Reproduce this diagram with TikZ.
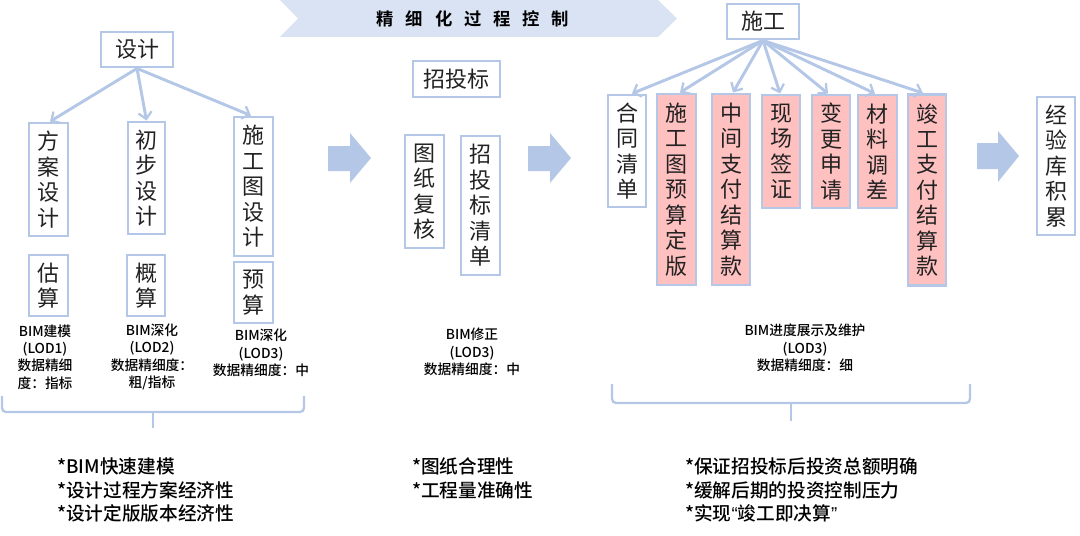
\documentclass[tikz,border=0pt]{standalone}
\usepackage{fontspec}
\usetikzlibrary{arrows.meta}
\setmainfont{Noto Sans CJK SC}
\newfontfamily\cjkm{Noto Sans CJK SC Medium}
\newfontfamily\cjkh{Noto Sans CJK SC Bold}
\newfontfamily\lat{Liberation Sans}
\definecolor{bl}{HTML}{B4C7E7}
\definecolor{ban}{HTML}{DAE3F3}
\definecolor{pk}{HTML}{FFC0C0}
\definecolor{tx}{HTML}{222222}
\tikzset{
  x=0.75pt,y=-0.75pt,
  box/.style={draw=bl,line width=2.2pt,fill=white,text=tx,align=center,inner sep=0pt,
    font=\fontsize{16.5}{19.1}\selectfont},
  pinkbox/.style={box,fill=pk},
  conn/.style={draw=bl,line width=2.2pt,-{Straight Barb[length=5pt,width=10pt,line width=1.7pt]},shorten >=0pt},
  small/.style={text=black,align=center,inner sep=0pt,font=\cjkm\fontsize{10.3}{13}\selectfont},
  bullet/.style={text=black,align=left,anchor=west,inner sep=0pt,font=\cjkm\fontsize{14}{17.5}\selectfont},
  blockarrow/.style={fill=bl,draw=none},
  brace/.style={draw=bl,line width=1.7pt,rounded corners=3pt}
}
\begin{document}
\begin{tikzpicture}
\useasboundingbox (0,0) rectangle (1080,535);
% banner
\fill[ban] (280,0) -- (298,18.5) -- (280,37) -- (658,37) -- (677,18.5) -- (658,0) -- cycle;
\node[text=black,inner sep=0pt,font=\cjkh\fontsize{13}{15}\selectfont] (banner) at (473,19)
  {精\hspace{8.9pt}细\hspace{8.9pt}化\hspace{8.9pt}过\hspace{8.9pt}程\hspace{8.9pt}控\hspace{8.9pt}制};
% design
\node[box,minimum width=54pt,minimum height=26.25pt] (sj) at (137,49.5) {设计};
\node[box,minimum width=29.25pt,minimum height=84.75pt] (fa) at (48.5,179.5) {方\\案\\设\\计};
\node[box,minimum width=27.75pt,minimum height=84pt] (cb) at (146.5,178) {初\\步\\设\\计};
\node[box,minimum width=29.25pt,minimum height=104.25pt] (st) at (253.5,186.5) {施\\工\\图\\设\\计};
\node[box,minimum width=29.25pt,minimum height=45.75pt] (gs) at (48.5,285.5) {估\\算};
\node[box,minimum width=28.5pt,minimum height=45.75pt] (ga) at (146,285.5) {概\\算};
\node[box,minimum width=29.25pt,minimum height=45.75pt] (ys) at (253.5,292.5) {预\\算};
\draw[conn] (sj.south) -- ([xshift=1.1pt]fa.north);
\draw[conn] (sj.south) -- (cb.north);
\draw[conn] (sj.south) -- ([xshift=-1.9pt]st.north);
% tender
\node[box,minimum width=65.25pt,minimum height=27pt] (ztb) at (456.5,79) {招投标};
\node[box,minimum width=29.25pt,minimum height=84.75pt] (tz) at (424.5,191.5) {图\\纸\\复\\核};
\node[box,minimum width=29.25pt,minimum height=104.25pt] (qd) at (480.5,205.5) {招\\投\\标\\清\\单};
% construction
\node[box,minimum width=54pt,minimum height=26.25pt] (sg) at (763,21.5) {施工};
\node[box,minimum width=28.5pt,minimum height=84pt] (ht) at (627,151) {合\\同\\清\\单};
\node[pinkbox,minimum width=29.25pt,minimum height=143.25pt] (sy) at (676.5,189.5) {施\\工\\图\\预\\算\\定\\版};
\node[pinkbox,minimum width=28.5pt,minimum height=143.25pt] (zj) at (731,189.5) {中\\间\\支\\付\\结\\算\\款};
\node[pinkbox,minimum width=28.5pt,minimum height=84.75pt] (xc) at (781,151.5) {现\\场\\签\\证};
\node[pinkbox,minimum width=28.5pt,minimum height=84.75pt] (bg) at (831,151.5) {变\\更\\申\\请};
\node[pinkbox,minimum width=29.25pt,minimum height=84.75pt] (cl) at (877.5,151.5) {材\\料\\调\\差};
\node[pinkbox,minimum width=28.5pt,minimum height=143.25pt] (jg) at (927,190) {竣\\工\\支\\付\\结\\算\\款};
\node[box,minimum width=28.5pt,minimum height=103.5pt] (jy) at (1056,166) {经\\验\\库\\积\\累};
\draw[conn] (sg.south) -- ([xshift=3.7pt]ht.north);
\draw[conn] (sg.south) -- ([xshift=2.6pt]sy.north);
\draw[conn] (sg.south) -- ([xshift=1.5pt]zj.north);
\draw[conn] (sg.south) -- ([xshift=-0.7pt]xc.north);
\draw[conn] (sg.south) -- ([xshift=-2.2pt]bg.north);
\draw[conn] (sg.south) -- ([xshift=-1.9pt]cl.north);
\draw[conn] (sg.south) -- ([xshift=-3pt]jg.north);
% block arrows
\fill[blockarrow] (328,146) -- (350,146) -- (350,133) -- (371,158) -- (350,183) -- (350,171) -- (328,171) -- cycle;
\fill[blockarrow] (528,146) -- (550,146) -- (550,133) -- (571,158) -- (550,183) -- (550,171) -- (528,171) -- cycle;
\fill[blockarrow] (977,143) -- (998,143) -- (998,131) -- (1019,156) -- (998,182) -- (998,169) -- (977,169) -- cycle;
% labels
\node[small] (l1) at (45,357) {BIM建模\\(LOD1)\\数据精细\\度：指标};
\node[small] (l2) at (152,357) {BIM深化\\(LOD2)\\数据精细度：\\粗/指标};
\node[small] (l3) at (261,353) {BIM深化\\(LOD3)\\数据精细度：中};
\node[small] (l4) at (472,352) {BIM修正\\(LOD3)\\数据精细度：中};
\node[small] (l5) at (805,348) {BIM进度展示及维护\\(LOD3)\\数据精细度：细};
% braces
\draw[brace] (2,396) -- (2,412) -- (304,412) -- (304,396);
\draw[brace,rounded corners=0pt] (153,412) -- (153,428);
\draw[brace] (612,384) -- (612,403) -- (970,403) -- (970,384);
\draw[brace,rounded corners=0pt] (791,403) -- (791,421);
% bullets
\node[bullet] (b1) at (57,490) {*BIM快速建模\\*设计过程方案经济性\\*设计定版版本经济性};
\node[bullet] (b2) at (412,478.5) {*图纸合理性\\*工程量准确性};
\node[bullet] (b3) at (685,490) {*保证招投标后投资总额明确\\*缓解后期的投资控制压力\\*实现{\lat “}竣工即决算{\lat ”}};
\end{tikzpicture}
\end{document}
